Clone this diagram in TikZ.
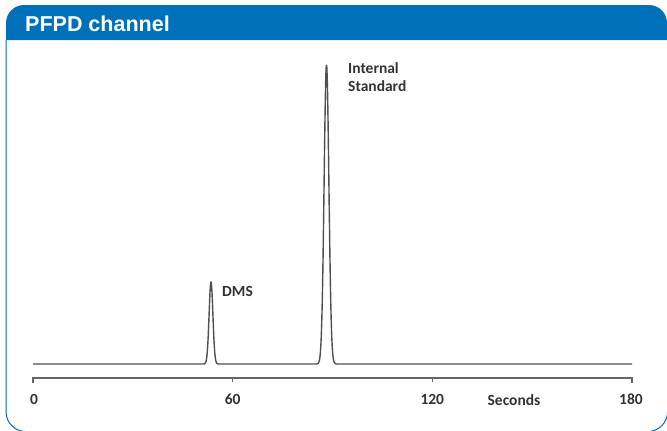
\documentclass[tikz,border=0pt]{standalone}
\usepackage{fontspec}
\setmainfont{Carlito}
\newfontfamily\headfont{Liberation Sans}
\definecolor{hdrblue}{RGB}{0,112,186}
\definecolor{tracegray}{RGB}{80,80,80}
\tikzset{
  header/.style={fill=hdrblue},
  frame/.style={draw=hdrblue, line width=1pt},
  trace/.style={draw=tracegray, line width=1.4pt, line join=round},
  axisline/.style={draw=gray!80!black, line width=1.4pt},
  lbl/.style={font=\fontsize{15.5}{18.5}\selectfont\bfseries, text=black!80, inner sep=0pt},
}
\begin{document}
\begin{tikzpicture}[x=1pt, y=-1pt]
		\useasboundingbox (0,0) rectangle (667,431);
		% panel
		\fill[header] (6,40) [rounded corners=18pt] -- (6,5) -- (667,5) [sharp corners] -- (667,40) -- cycle;
		\draw[frame, rounded corners=20pt] (6,40) -- (6,431.6) -- (667.6,431.6) -- (667.6,40);
		\node[font=\headfont\fontsize{21.5}{24}\selectfont\bfseries, text=white, anchor=base west, inner sep=0pt] (title) at (25,31) {PFPD channel};
		% chromatogram
		\draw[trace] (33,364) -- (196,364)
			-- plot[domain=196:226, samples=151] (\x, {364 - 82*exp(-((\x-211)*(\x-211))/(2*1.9*1.9))})
			-- (308,364)
			-- plot[domain=308:345, samples=186] (\x, {364 - 299*exp(-((\x-326.5)*(\x-326.5))/(2*2.4*2.4))})
			-- (632,364);
		\node[lbl, anchor=west] (dms) at (222,291) {DMS};
		\node[lbl, anchor=north west, align=left] (istd) at (348,62) {Internal\\Standard};
		% time axis
		\draw[axisline] (33,383) -- (33,378) -- (632,378) -- (632,383);
		\foreach \t in {60,120}
			\draw[axisline, line width=1pt] ({33+\t/180*599},378) -- ({33+\t/180*599},382);
		\node[lbl] (t0) at (34,399) {0};
		\node[lbl] (t60) at (232.7,399) {60};
		\node[lbl] (t120) at (432.3,399) {120};
		\node[lbl] (tsec) at (514,400) {Seconds};
		\node[lbl] (t180) at (631,399) {180};
	\end{tikzpicture}
\end{document}
